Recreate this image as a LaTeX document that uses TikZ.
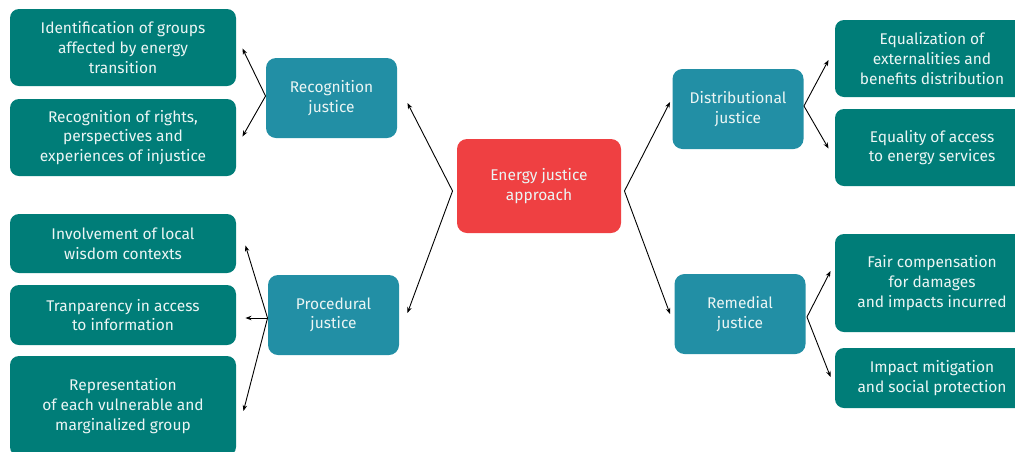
\documentclass[tikz,border=0pt]{standalone}
\usepackage{fontspec}
\setmainfont{Fira Sans}
\usetikzlibrary{arrows.meta,calc}
\definecolor{leafcol}{RGB}{0,125,120}
\definecolor{midcol}{RGB}{34,143,165}
\definecolor{rootcol}{RGB}{239,64,66}
\begin{document}
\begin{tikzpicture}[x=1pt,y=-1pt,line width=0.9pt,
            every node/.style={inner sep=2pt,align=center,text=white!92!leafcol,
              font=\fontsize{15.5}{19.6}\selectfont},
            >={Stealth[width=4.5pt,length=6pt]},
            leaf/.style={fill=leafcol,rounded corners=9pt,minimum width=226},
            leafr/.style={fill=leafcol,rounded corners=9pt,minimum width=194},
            mid/.style={fill=midcol,rounded corners=10pt,minimum width=131,minimum height=80},
            root/.style={fill=rootcol,rounded corners=10pt,minimum width=164,minimum height=94}]
            \useasboundingbox(0,0)rectangle(1015,451);
            \node[root](ej)at(539,186){Energy justice\\approach};
            \node[mid](rec)at(331.5,98){Recognition\\justice};
            \node[mid](proc)at(333.5,315){Procedural\\justice};
            \node[mid](dist)at(738,109){Distributional\\justice};
            \node[mid](rem)at(740,314){Remedial\\justice};
            \node[leaf,minimum height=77](ident)at(123,47.5)
              {Identification of groups\\affected by energy\\transition};
            \node[leaf,minimum height=77](rights)at(123,137.5)
              {Recognition of rights,\\perspectives and\\experiences of injustice};
            \node[leaf,minimum height=59](local)at(123,243.5)
              {Involvement of local\\wisdom contexts};
            \node[leaf,minimum height=60](transp)at(123,315)
              {Tranparency in access\\to information};
            \node[leaf,minimum height=100](repr)at(123,406)
              {Representation\\of each vulnerable and\\marginalized group};
            \node[leafr,minimum height=77](equal)at(932,58.5)
              {Equalization of\\externalities and\\benefits distribution};
            \node[leafr,minimum height=77](access)at(932,147.5)
              {Equality of access\\to energy services};
            \node[leafr,minimum height=98](comp)at(932,283)
              {Fair compensation\\for damages\\and impacts incurred};
            \node[leafr,minimum height=60](mitig)at(932,378)
              {Impact mitigation\\and social protection};
            \coordinate(ejl)at([shift={(-4,5)}]ej.west);
            \coordinate(ejr)at([shift={(3,5)}]ej.east);
            \coordinate(recj)at([shift={(0,-2)}]rec.west);
            \coordinate(procj)at([shift={(0,3)}]proc.west);
            \coordinate(distj)at([shift={(0,-3)}]dist.east);
            \coordinate(remj)at([shift={(1,3)}]rem.east);
            \draw[->](ejl)--([shift={(10,5)}]rec.east);
            \draw[->](ejl)--([shift={(8,-2)}]proc.east);
            \draw[->](ejr)--([shift={(-2,-7)}]dist.west);
            \draw[->](ejr)--([shift={(-4,0)}]rem.west);
            \draw[->](recj)--([shift={(6,1)}]ident.east);
            \draw[->](recj)--([shift={(6,-1)}]rights.east);
            \draw[->](procj)--([shift={(9,2)}]local.east);
            \draw[->](procj)--([shift={(9,3)}]transp.east);
            \draw[->](procj)--([shift={(7,5)}]repr.east);
            \draw[->](distj)--([shift={(-6,1.5)}]equal.west);
            \draw[->](distj)--([shift={(-6,1)}]access.west);
            \draw[->](remj)--([shift={(-4,-12)}]comp.west);
            \draw[->](remj)--([shift={(-4,-1)}]mitig.west);
        \end{tikzpicture}
\end{document}
